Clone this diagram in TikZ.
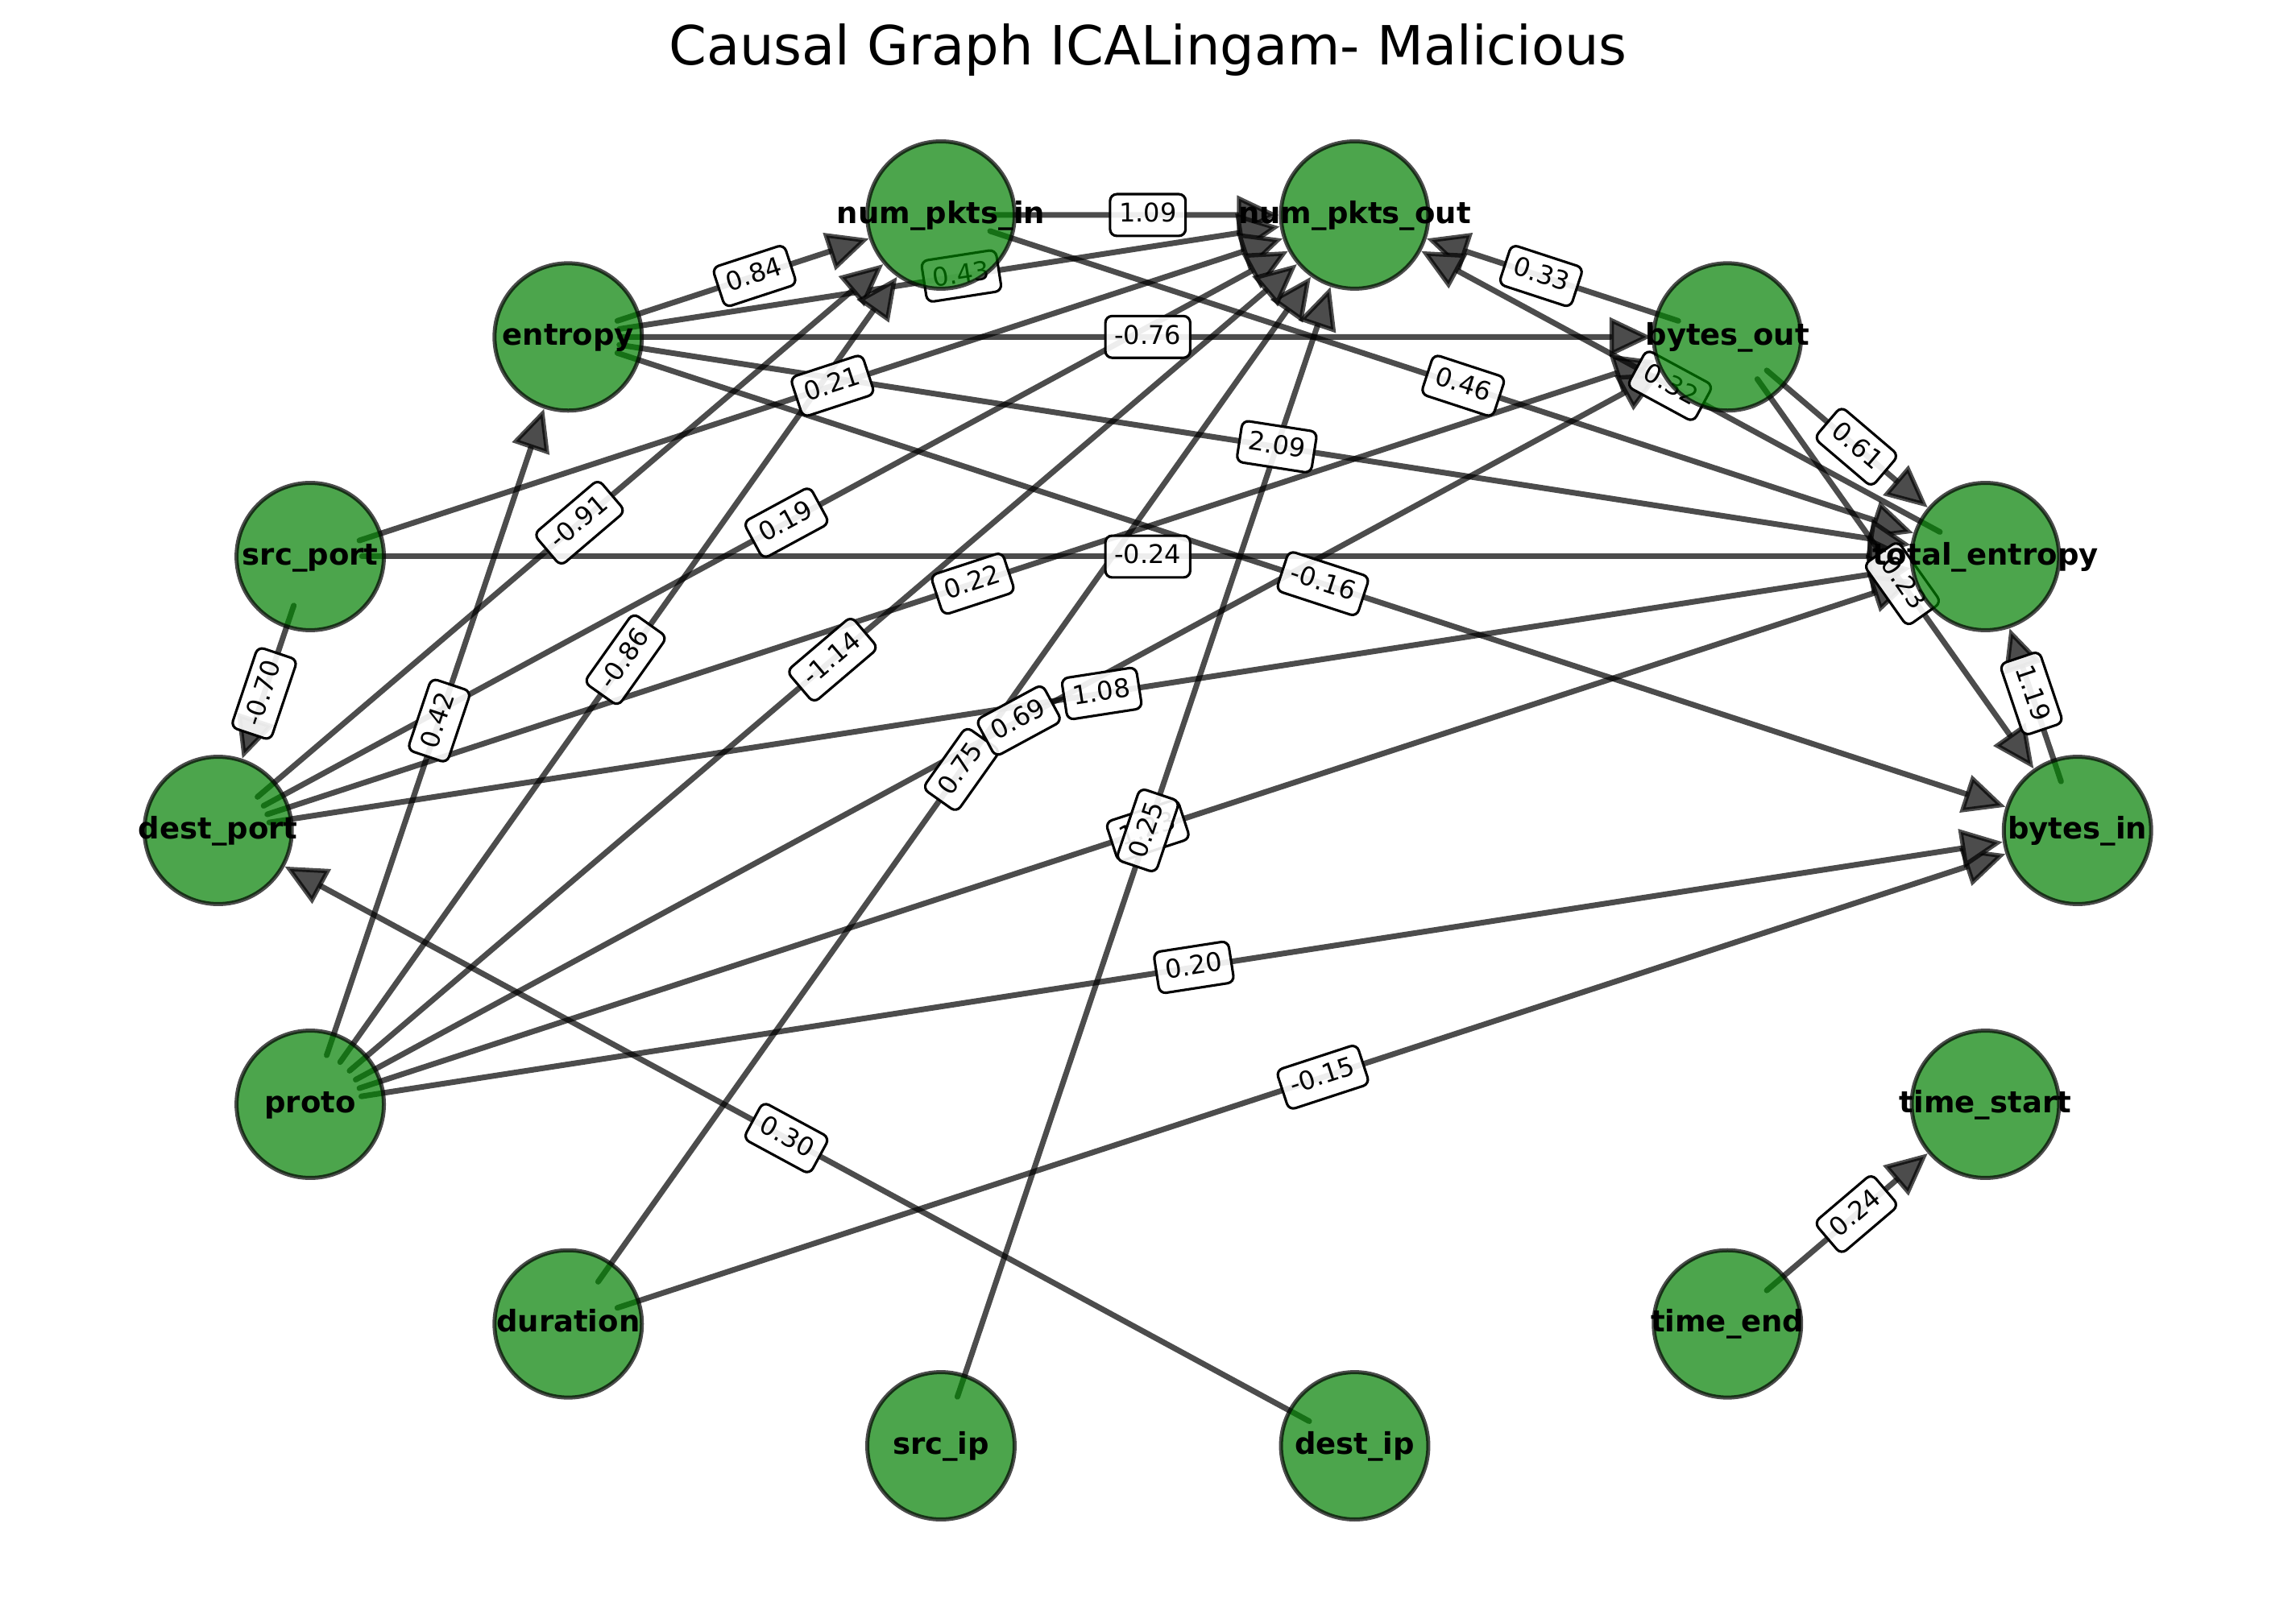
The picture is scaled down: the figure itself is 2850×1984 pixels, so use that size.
\documentclass[tikz,border=0pt]{standalone}
\usepackage{fontspec}
\setmainfont{DejaVu Sans}
\usetikzlibrary{arrows.meta}
\pgfdeclarelayer{bg}
\pgfdeclarelayer{edges}
\pgfdeclarelayer{labels}
\pgfsetlayers{bg,edges,labels,main}
\definecolor{nodegreen}{RGB}{0,128,0}
\tikzset{
  cgnode/.style={circle, draw=black, draw opacity=0.7, fill=nodegreen, fill opacity=0.7,
    text opacity=1, line width=1.2pt, minimum size=43.9pt, inner sep=0pt,
    font=\fontsize{8.88pt}{10pt}\selectfont\bfseries, text height=6.75pt, text depth=1.85pt},
  edgeline/.style={draw=black, draw opacity=0.7, line width=1.68pt, line cap=round,
    shorten <=15.4pt, shorten >=22.6pt,
    -{Triangle[length=12.5pt,width=11.5pt,fill=black!70,line width=1.3pt]}},
  elabel/.style={draw=black, line width=0.75pt, fill=white, fill opacity=0.9, text opacity=1,
    rounded corners=2pt, font=\fontsize{7.68pt}{9pt}\selectfont,
    inner xsep=2.7pt, inner ysep=2.5pt, text height=5.84pt, text depth=1.6pt}
}
\newcommand\cgnodeat[3]{\node[cgnode] (#1) at ({1424.75+1154*cos(#2*360/14)},{1031-783.7*sin(#2*360/14)}) {\makebox[0pt]{#3}};}
\newcommand\cgedge[3]{%
  \begin{pgfonlayer}{edges}\draw[edgeline] (#1.center) -- (#2.center);\end{pgfonlayer}%
  \begin{pgfonlayer}{labels}\path (#1.center) -- node[elabel,sloped]{#3} (#2.center);\end{pgfonlayer}}
\begin{document}
\begin{tikzpicture}[x=0.24pt,y=-0.24pt]
\begin{pgfonlayer}{bg}
\fill[white] (0,0) rectangle (2850,1984);
\end{pgfonlayer}
\path[use as bounding box] (0,0) rectangle (2850,1984);
\node[font=\fontsize{16.1pt}{19pt}\selectfont, anchor=base, inner sep=0pt] (title) at (1425,81) {Causal Graph ICALingam- Malicious};
\cgnodeat{bytesin}{0}{bytes\_in}
\cgnodeat{totent}{1}{total\_entropy}
\cgnodeat{bytesout}{2}{bytes\_out}
\cgnodeat{numout}{3}{num\_pkts\_out}
\cgnodeat{numin}{4}{num\_pkts\_in}
\cgnodeat{entropy}{5}{entropy}
\cgnodeat{srcport}{6}{src\_port}
\cgnodeat{destport}{7}{dest\_port}
\cgnodeat{proto}{8}{proto}
\cgnodeat{duration}{9}{duration}
\cgnodeat{srcip}{10}{src\_ip}
\cgnodeat{destip}{11}{dest\_ip}
\cgnodeat{timeend}{12}{time\_end}
\cgnodeat{timestart}{13}{time\_start}
\cgedge{numin}{numout}{1.09}
\cgedge{numin}{totent}{0.46}
\cgedge{entropy}{numin}{0.84}
\cgedge{entropy}{numout}{0.43}
\cgedge{entropy}{bytesout}{-0.76}
\cgedge{entropy}{totent}{2.09}
\cgedge{entropy}{bytesin}{-0.16}
\cgedge{srcport}{numout}{0.21}
\cgedge{srcport}{totent}{-0.24}
\cgedge{srcport}{destport}{-0.70}
\cgedge{destport}{numin}{-0.91}
\cgedge{destport}{numout}{0.19}
\cgedge{destport}{bytesout}{0.22}
\cgedge{destport}{totent}{1.08}
\cgedge{duration}{numout}{0.75}
\cgedge{duration}{bytesin}{-0.15}
\cgedge{proto}{entropy}{0.42}
\cgedge{proto}{numin}{-0.86}
\cgedge{proto}{numout}{-1.14}
\cgedge{proto}{bytesout}{0.69}
\cgedge{proto}{totent}{1.23}
\cgedge{proto}{bytesin}{0.20}
\cgedge{srcip}{numout}{0.25}
\cgedge{destip}{destport}{0.30}
\cgedge{bytesout}{numout}{0.33}
\cgedge{bytesout}{totent}{0.61}
\cgedge{bytesout}{bytesin}{0.23}
\cgedge{totent}{numout}{0.32}
\cgedge{bytesin}{totent}{1.19}
\cgedge{timeend}{timestart}{0.24}
\end{tikzpicture}
\end{document}
